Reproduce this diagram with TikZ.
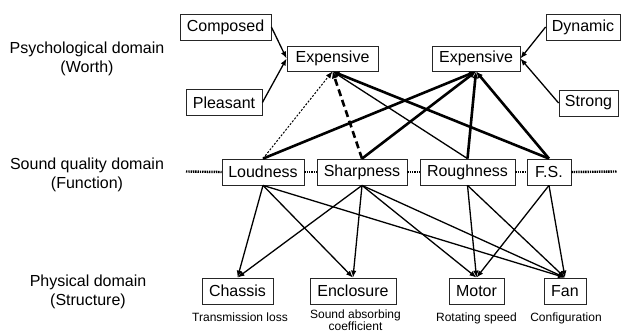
\documentclass[tikz,border=0pt]{standalone}
\usepackage{fontspec}
\setmainfont{Liberation Sans}
\usetikzlibrary{arrows.meta}
\begin{document}
\begin{tikzpicture}[x=1pt,y=-1pt,
  box/.style={draw=black!85, line width=0.8pt, minimum height=26pt, inner sep=0pt, font=\fontsize{16}{19}\selectfont},
  lbl/.style={font=\fontsize{12}{12}\selectfont, align=center, inner sep=0pt},
  dom/.style={font=\fontsize{16}{19}\selectfont, align=center, inner sep=0pt},
  thinarr/.style={line width=1.3pt, -{Latex[length=7pt,width=5.5pt]}},
  thickarr/.style={line width=2.6pt, -{Latex[length=7pt,width=6pt]}},
  dotarr/.style={line width=1pt, dash pattern=on 2pt off 1.6pt, -{Latex[length=7pt,width=5.5pt]}},
  dasharr/.style={line width=2.6pt, dash pattern=on 7pt off 4pt, -{Latex[length=7pt,width=6pt]}},
  domline/.style={line width=2.4pt, dash pattern=on 1.4pt off 0.9pt}
]
\useasboundingbox (0,0) rectangle (621,333);

% domain labels
\node[dom] (d1) at (87,58.5) {Psychological domain\\(Worth)};
\node[dom] (d2) at (87,174.5) {Sound quality domain\\(Function)};
\node[dom] (d3) at (88,291.5) {Physical domain\\(Structure)};

% psychological level
\node[box, minimum width=91pt] (Comp) at (225.5,27) {Composed};
\node[box, minimum width=76pt] (Pleas) at (224,102.5) {Pleasant};
\node[box, minimum width=91pt, minimum height=25pt] (EL) at (332.5,58.5) {Expensive};
\node[box, minimum width=88pt, minimum height=25pt] (ER) at (476,58.5) {Expensive};
\node[box, minimum width=74pt] (Dyn) at (583,27) {Dynamic};
\node[box, minimum width=59pt] (Str) at (588.5,103) {Strong};

% sound quality level
\node[box, minimum width=82pt] (Loud) at (263,172) {Loudness};
\node[box, minimum width=90pt] (Sharp) at (362,172) {Sharpness};
\node[box, minimum width=95pt] (Rough) at (467.5,172) {Roughness};
\node[box, minimum width=44pt] (FS) at (549,172) {F.S.};

% physical level
\node[box, minimum width=71pt] (Chas) at (237.5,291) {Chassis};
\node[box, minimum width=86pt] (Encl) at (353,291) {Enclosure};
\node[box, minimum width=55pt] (Mot) at (476.5,291) {Motor};
\node[box, minimum width=42pt] (Fan) at (565,291) {Fan};

\node[lbl, anchor=base] (l1) at (240,321) {Transmission loss};
\node[lbl, anchor=north] (l2) at (355.5,309.5) {Sound absorbing\\coefficient};
\node[lbl, anchor=base] (l3) at (476.5,321) {Rotating speed};
\node[lbl, anchor=base] (l4) at (566,321) {Configuration};

% dotted domain line
\coordinate (dl) at (186,171.5);
\coordinate (dr) at (617,171.5);
\draw[domline] (dl) -- (Loud.west);
\draw[domline] (Loud.east) -- (Sharp.west);
\draw[domline] (Sharp.east) -- (Rough.west);
\draw[domline] (Rough.east) -- (FS.west);
\draw[domline] (FS.east) -- (dr);

% top arrows
\draw[thinarr] (Comp.east) -- (EL.west);
\draw[thinarr] (Pleas.east) -- (EL.west);
\draw[thinarr] (Dyn.west) -- (ER.east);
\draw[thinarr] (Str.west) -- (ER.east);

% middle to top
\draw[dotarr] (Loud.north) -- (EL.south);
\draw[dasharr] (Sharp.north) -- (EL.south);
\draw[thinarr] (Rough.north) -- (EL.south);
\draw[thickarr] (FS.north) -- (EL.south);
\draw[thickarr] (Loud.north) -- (ER.south);
\draw[thickarr] (Sharp.north) -- (ER.south);
\draw[thickarr] (Rough.north) -- (ER.south);
\draw[thickarr] (FS.north) -- (ER.south);

% middle to bottom
\draw[thinarr] (Loud.south) -- (Chas.north);
\draw[thinarr] (Loud.south) -- (Encl.north);
\draw[thinarr] (Loud.south) -- (Fan.north);
\draw[thinarr] (Sharp.south) -- (Chas.north);
\draw[thinarr] (Sharp.south) -- (Encl.north);
\draw[thinarr] (Sharp.south) -- (Mot.north);
\draw[thinarr] (Sharp.south) -- (Fan.north);
\draw[thinarr] (Rough.south) -- (Mot.north);
\draw[thinarr] (Rough.south) -- (Fan.north);
\draw[thinarr] (FS.south) -- (Mot.north);
\draw[thinarr] (FS.south) -- (Fan.north);
\end{tikzpicture}
\end{document}
